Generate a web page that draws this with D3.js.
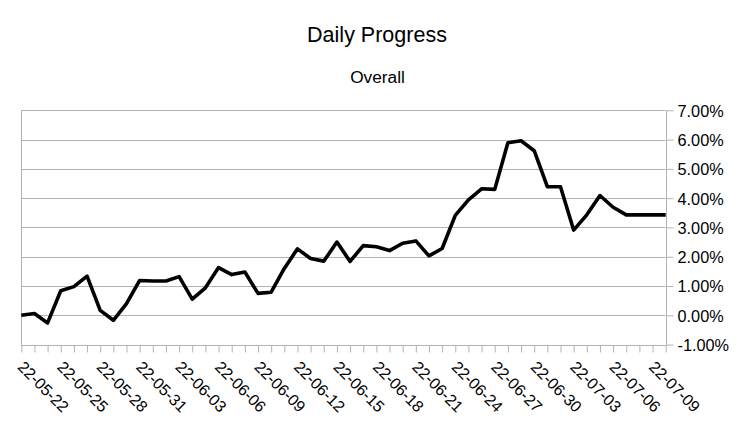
<!DOCTYPE html>
<html>
<head>
<meta charset="utf-8">
<script src="https://cdn.jsdelivr.net/npm/d3@7"></script>
<style>
  html, body { margin: 0; padding: 0; background: #fff; }
  svg { display: block; font-family: "Liberation Sans", Arial, sans-serif; }
</style>
</head>
<body>
<svg id="chart" width="756" height="426"></svg>
<script>
const dates = [
  "22-05-22","22-05-23","22-05-24","22-05-25","22-05-26","22-05-27","22-05-28","22-05-29","22-05-30","22-05-31",
  "22-06-01","22-06-02","22-06-03","22-06-04","22-06-05","22-06-06","22-06-07","22-06-08","22-06-09","22-06-10",
  "22-06-11","22-06-12","22-06-13","22-06-14","22-06-15","22-06-16","22-06-17","22-06-18","22-06-19","22-06-20",
  "22-06-21","22-06-22","22-06-23","22-06-24","22-06-25","22-06-26","22-06-27","22-06-28","22-06-29","22-06-30",
  "22-07-01","22-07-02","22-07-03","22-07-04","22-07-05","22-07-06","22-07-07","22-07-08","22-07-09","22-07-10"
];
const overall = [
  0.00, 0.06, -0.26, 0.84, 0.98, 1.34, 0.17, -0.17, 0.40, 1.19,
  1.17, 1.17, 1.32, 0.55, 0.94, 1.63, 1.39, 1.48, 0.75, 0.79,
  1.60, 2.27, 1.94, 1.85, 2.50, 1.84, 2.38, 2.34, 2.21, 2.46,
  2.54, 2.03, 2.28, 3.41, 3.94, 4.32, 4.30, 5.89, 5.96, 5.62,
  4.39, 4.39, 2.91, 3.43, 4.09, 3.69, 3.43, 3.43, 3.43, 3.43
];
const yTicks = [-1, 0, 1, 2, 3, 4, 5, 6, 7];
const labelEvery = 3;
const title = "Daily Progress";
const subtitle = "Overall";

(function () {
const svg = d3.select("#chart");
const pLeft = 21.3, pRight = 665.7, pTop = 110.3, pBottom = 344.6;
const grid = "#b3b3b3";

const x = d3.scalePoint().domain(dates).range([pLeft, pRight]).padding(0);
const y = d3.scaleLinear().domain([-1, 7]).range([pBottom, pTop]);

// title
svg.append("text").attr("x", 377).attr("y", 41.7).attr("text-anchor", "middle")
  .attr("font-size", "21.5px").attr("fill", "#000").text(title);
svg.append("text").attr("x", 377.5).attr("y", 83.3).attr("text-anchor", "middle")
  .attr("font-size", "17.3px").attr("fill", "#000").text(subtitle);

// gridlines
svg.append("g").selectAll("line").data(yTicks).join("line")
  .attr("x1", pLeft).attr("x2", pRight)
  .attr("y1", d => Math.round(y(d)) + 0.5).attr("y2", d => Math.round(y(d)) + 0.5)
  .attr("stroke", grid).attr("stroke-width", 1);

// left border
svg.append("line").attr("x1", Math.round(pLeft) + 0.5).attr("x2", Math.round(pLeft) + 0.5)
  .attr("y1", Math.round(pTop) + 0.5).attr("y2", Math.round(pBottom) + 0.5)
  .attr("stroke", grid);

// right y axis
const yAxis = d3.axisRight(y).tickValues(yTicks).tickSize(7).tickPadding(4)
  .tickFormat(d => d.toFixed(2) + "%");
const gy = svg.append("g").attr("transform", `translate(${Math.round(pRight) + 0.5},0)`).call(yAxis);
gy.select(".domain").attr("stroke", grid).attr("d", `M0,${Math.round(pTop)+0.5}V${Math.round(pBottom)+0.5}`);
gy.selectAll(".tick line").attr("stroke", grid);
gy.selectAll(".tick text").attr("font-size", "16.3px").attr("fill", "#000")
  .attr("font-family", "Liberation Sans, Arial, sans-serif").attr("x", 11).attr("dy", "0.36em");

// bottom x axis
const xAxis = d3.axisBottom(x).tickSize(7).tickFormat("");
const gx = svg.append("g").attr("transform", `translate(0,${Math.round(pBottom) + 0.5})`).call(xAxis);
gx.select(".domain").attr("stroke", grid).attr("d", `M${pLeft},0H${pRight}`);
gx.selectAll(".tick line").attr("stroke", grid);

// rotated labels
svg.append("g").selectAll("text")
  .data(dates.filter((d, i) => i % labelEvery === 0))
  .join("text")
  .attr("transform", d => `translate(${x(d) - 4.5},${368}) rotate(45)`)
  .attr("font-size", "16px").attr("fill", "#000").attr("text-anchor", "start")
  .text(d => d);

// line
const line = d3.line().x((d, i) => x(dates[i])).y(d => y(d));
svg.append("path").datum(overall).attr("d", line)
  .attr("fill", "none").attr("stroke", "#000").attr("stroke-width", 3.6)
  .attr("stroke-linejoin", "round").attr("stroke-linecap", "butt");
})();
</script>
</body>
</html>
